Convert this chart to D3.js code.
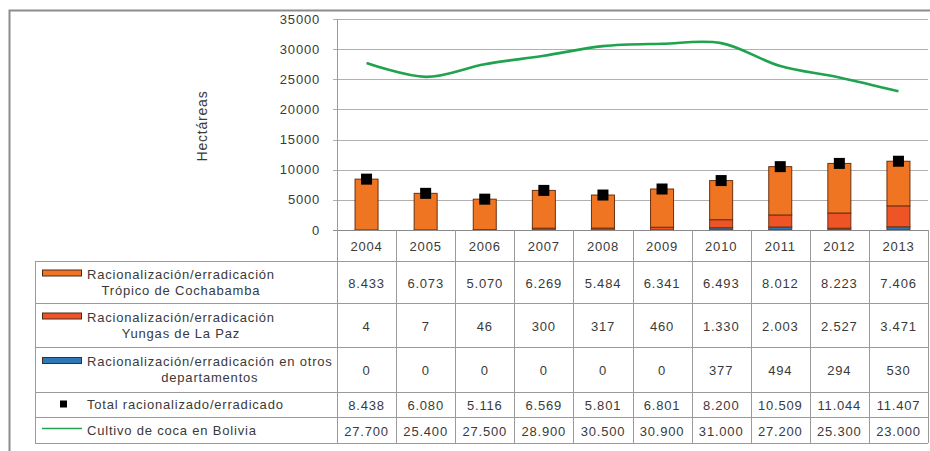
<!DOCTYPE html>
<html><head><meta charset="utf-8">
<script src="https://cdn.jsdelivr.net/npm/d3@7"></script>
<style>
html,body{margin:0;padding:0;background:#fff;}
svg{display:block;font-family:"Liberation Sans",Arial,sans-serif;}
</style></head>
<body>
<svg id="c" width="930" height="451"></svg>
<script>
const years = ["2004","2005","2006","2007","2008","2009","2010","2011","2012","2013"];
const tropico = [8433,6073,5070,6269,5484,6341,6493,8012,8223,7406];
const yungas = [4,7,46,300,317,460,1330,2003,2527,3471];
const otros = [0,0,0,0,0,0,377,494,294,530];
const total = [8438,6080,5116,6569,5801,6801,8200,10509,11044,11407];
const coca = [27700,25400,27500,28900,30500,30900,31000,27200,25300,23000];
const yTicks = [0,5000,10000,15000,20000,25000,30000,35000];

const seriesNames = [
  ["Racionalización/erradicación","Trópico de Cochabamba"],
  ["Racionalización/erradicación","Yungas de La Paz"],
  ["Racionalización/erradicación en otros","departamentos"],
  ["Total racionalizado/erradicado"],
  ["Cultivo de coca en Bolivia"]
];
const colors = {tropico:"#f07522", yungas:"#ee5426", otros:"#2e78b8", total:"#000", coca:"#1fa34e"};

const svg = d3.select("#c");
const L = 337, R = 928, T = 19, B = 230;
const x = d3.scaleBand().domain(years).range([L, R]).padding(0);
const y = d3.scaleLinear().domain([0, 35000]).range([B, T]);
const fmt = d3.formatLocale({decimal:",", thousands:".", grouping:[3], currency:["",""]}).format(",d");
const txtCol = "#3a3a3a", lineCol = "#9a9a9a";
const ls = "0.8px";

// outer frame
svg.append("rect").attr("x",9.5).attr("y",10.5).attr("width",940).attr("height",460)
  .attr("fill","none").attr("stroke","#8c8c8c").attr("stroke-width",2);

// gridlines
svg.append("g").selectAll("line").data(yTicks.filter(d=>d>0)).join("line")
  .attr("x1", L-4).attr("x2", R).attr("y1", d=>Math.round(y(d))+0.5).attr("y2", d=>Math.round(y(d))+0.5)
  .attr("stroke", "#b0b0b0").attr("stroke-width",1.2);
// y axis line
svg.append("line").attr("x1",L+0.5).attr("x2",L+0.5).attr("y1",y(35000)).attr("y2",B)
  .attr("stroke", lineCol);
// y tick labels
svg.append("g").selectAll("text").data(yTicks).join("text")
  .attr("x", 320).attr("y", d=>y(d)).attr("dy","0.35em").attr("text-anchor","end")
  .attr("font-size",13).attr("letter-spacing",ls).attr("fill",txtCol).text(d=>d);
// y title
svg.append("text").attr("transform","translate(207,126) rotate(-90)").attr("text-anchor","middle")
  .attr("font-size",14).attr("letter-spacing",ls).attr("fill",txtCol).text("Hectáreas");

// stacked bars
const bw = 23;
const stackData = years.map((yr,i)=>({year:yr, otros:otros[i], yungas:yungas[i], tropico:tropico[i]}));
const stack = d3.stack().keys(["otros","yungas","tropico"])(stackData);
const gb = svg.append("g");
stack.forEach(s=>{
  gb.append("g").selectAll("rect").data(s).join("rect")
    .attr("x", d=>x(d.data.year)+x.bandwidth()/2-bw/2)
    .attr("y", d=>y(d[1]))
    .attr("width", bw)
    .attr("height", d=>Math.max(0, y(d[0])-y(d[1])))
    .attr("fill", colors[s.key])
    .attr("stroke", (d)=> (d[1]-d[0])>0 ? "#6b3010" : "none").attr("stroke-width",1);
});

// x-axis line
svg.append("line").attr("x1",L-4).attr("x2",R).attr("y1",B+0.5).attr("y2",B+0.5).attr("stroke","#8a8a8a");

// total markers
svg.append("g").selectAll("rect").data(total).join("rect")
  .attr("x",(d,i)=>x(years[i])+x.bandwidth()/2-5.5).attr("y",d=>y(d)-5.5)
  .attr("width",11).attr("height",11).attr("fill","#000");

// coca line
const line = d3.line().x((d,i)=>x(years[i])+x.bandwidth()/2).y(d=>y(d)).curve(d3.curveCatmullRom.alpha(0.5));
svg.append("path").attr("d", line(coca)).attr("fill","none").attr("stroke",colors.coca).attr("stroke-width",2.6);

// ---- table ----
const tg = svg.append("g");
const TL = 35, yearRowBottom = 261;
const rowEdges = [261, 303, 347, 392, 417, 443];
// year header verticals
const colEdges = years.map(yr=>x(yr)).concat([R]);
tg.selectAll(".hv").data(colEdges).join("line")
  .attr("x1",d=>Math.round(d)+0.5).attr("x2",d=>Math.round(d)+0.5).attr("y1",B).attr("y2",rowEdges[rowEdges.length-1])
  .attr("stroke",lineCol);
// year labels
tg.selectAll(".yl").data(years).join("text")
  .attr("x",d=>x(d)+x.bandwidth()/2).attr("y",(B+yearRowBottom)/2+1).attr("dy","0.35em")
  .attr("text-anchor","middle").attr("font-size",13).attr("letter-spacing",ls).attr("fill",txtCol).text(d=>d);
// horizontal rows
tg.selectAll(".hr").data(rowEdges).join("line")
  .attr("x1",TL).attr("x2",R).attr("y1",d=>d+0.5).attr("y2",d=>d+0.5).attr("stroke",lineCol);
// left border
tg.append("line").attr("x1",TL+0.5).attr("x2",TL+0.5).attr("y1",rowEdges[0]).attr("y2",rowEdges[rowEdges.length-1]).attr("stroke",lineCol);

const rowsVals = [tropico, yungas, otros, total, coca];
rowsVals.forEach((vals,ri)=>{
  const cy = (rowEdges[ri]+rowEdges[ri+1])/2;
  tg.append("g").selectAll("text").data(vals).join("text")
    .attr("x",(d,i)=>x(years[i])+x.bandwidth()/2).attr("y",cy+1).attr("dy","0.35em")
    .attr("text-anchor","middle").attr("font-size",13).attr("letter-spacing",ls).attr("fill",txtCol)
    .text(d=>fmt(d));
  // legend text
  const lines = seriesNames[ri];
  const lg = tg.append("g");
  const tx = 87;
  if (lines.length === 1) {
    lg.append("text").attr("x",tx).attr("y",cy).attr("dy","0.35em").attr("font-size",13)
      .attr("letter-spacing",ls).attr("fill",txtCol).text(lines[0]);
  } else {
    const ts = lines.map((l,k)=>lg.append("text").attr("y",cy-8+k*16).attr("dy","0.35em").attr("font-size",13)
      .attr("letter-spacing",ls).attr("fill",txtCol).attr("text-anchor","middle").text(l));
    const w = d3.max(ts, t=>t.node().getComputedTextLength());
    ts.forEach(t=>t.attr("x", tx + w/2));
  }
  // symbol
  if (ri < 3) {
    const col = [colors.tropico, colors.yungas, colors.otros][ri];
    tg.append("rect").attr("x",42.5).attr("y",cy-8-4).attr("width",39).attr("height",6)
      .attr("fill",col).attr("stroke","#4a2a1a").attr("stroke-width",1);
  } else if (ri === 3) {
    tg.append("rect").attr("x",60).attr("y",cy-4).attr("width",7).attr("height",7).attr("fill","#000");
  } else {
    tg.append("line").attr("x1",42).attr("x2",82).attr("y1",cy-1.5).attr("y2",cy-1.5)
      .attr("stroke",colors.coca).attr("stroke-width",1.5);
  }
});
</script>
</body></html>
